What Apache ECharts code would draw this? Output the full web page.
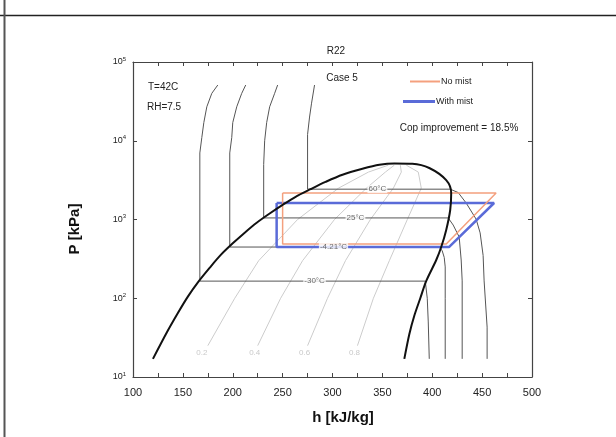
<!DOCTYPE html>
<html>
<head>
<meta charset="utf-8">
<script src="https://cdn.jsdelivr.net/npm/echarts@6/dist/echarts.min.js"></script>
<style>
  html, body { margin: 0; padding: 0; background: #fff; }
  #chart { width: 616px; height: 437px; }
</style>
</head>
<body>
<div id="chart"></div>
<script>
// saturation dome, [h kJ/kg, P kPa]
const dome = [
  [120, 17], [134, 37], [145, 65], [155, 105], [166, 165], [177, 245], [188, 355],
  [200, 498], [212, 681], [224, 910], [237, 1192], [250, 1534], [263, 1943],
  [278, 2427], [293, 3000], [310, 3700], [330, 4400], [347, 4950], [362, 5150],
  [380, 5100], [397, 4510], [414, 3160], [419, 2170], [418, 1320], [414, 736],
  [409, 447], [404, 306], [394, 166], [388, 100], [382, 60], [377, 35], [372, 17]
]

// isotherms
const isoM30 = [[185, 51000], [179, 40000], [174, 27000], [171, 17000], [169, 11000], [167, 7000],
  [167, 165], [393, 165], [395, 100], [396, 50], [397, 17]]
const isoM4 = [[213, 51000], [209, 40000], [204, 27000], [200, 17000], [199, 11000], [197, 7000],
  [197, 447], [407, 447], [410, 400], [412, 330], [413, 250], [413, 100], [413, 17]]
const iso25 = [[245, 51000], [242, 40000], [237, 27000], [234, 17000], [232, 10000], [231, 5000],
  [231, 1047], [416, 1047], [421, 850], [427, 600], [429, 306], [430, 166], [430, 17]]
const iso60 = [[282, 51000], [279, 30000], [277, 20000], [275, 12000], [275, 2427], [418, 2427],
  [426, 2200], [434, 1620], [444, 1010], [448, 676], [451, 350], [452, 166], [455, 43], [455, 17]]
const tempNames = ['60°C', '25°C', '-4.21°C', '-30°C']
const tempAt = [[345, 2427], [323, 1047], [301, 447], [282, 165]]

// quality lines
const q02 = [[175, 25], [202, 100], [226, 300], [265, 1000], [306, 2500], [336, 4000], [356, 4900]]
const q04 = [[225, 25], [248, 100], [270, 300], [302, 1000], [334, 2500], [353, 4000], [362, 4900]]
const q06 = [[275, 25], [295, 100], [313, 300], [338, 1000], [361, 2500], [369, 4000], [368, 4900]]
const q08 = [[325, 25], [341, 100], [357, 300], [375, 1000], [389, 2500], [386, 4000], [374, 4900]]
const qNames = ['0.2', '0.4', '0.6', '0.8']
const qAt = [[169, 20], [222, 20], [272, 20], [322, 20]]

// cycles
const noMist = [[250, 2170], [464, 2170], [414, 489], [250, 489], [250, 2170]]
const withMist = [[244, 1620], [462, 1620], [417, 448], [244, 448], [244, 1620]]

const font = 'Liberation Sans, Arial, sans-serif'
const chart = echarts.init(document.getElementById('chart'))

function line(name, data, color, width, z) {
  return { name, type: 'line', data, symbol: 'none', smooth: false, z,
    lineStyle: { color, width }, itemStyle: { color }, silent: true }
}

const isoSeries = [isoM30, isoM4, iso25, iso60].map(d => line('', d, '#555', 1, 2))
const qSeries = [q02, q04, q06, q08].map(d => line('', d, '#ccc', 1, 1))

const axisCommon = {
  axisLine: { lineStyle: { color: '#444', width: 1.2 } },
  axisTick: { inside: true, length: 4, lineStyle: { color: '#444' } },
  splitLine: { show: false }
}

let option = {
  animation: false,
  textStyle: { fontFamily: font },
  grid: { left: 133, right: 84, top: 62, bottom: 60 },
  legend: [
    { data: ['No mist'], left: 410, top: 77, padding: 0, itemWidth: 30, itemHeight: 2, icon: 'rect',
      textStyle: { fontSize: 9, color: '#222', padding: [0, 0, 0, -4] } },
    { data: ['With mist'], left: 403, top: 97, padding: 0, itemWidth: 32, itemHeight: 3, icon: 'rect',
      textStyle: { fontSize: 9, color: '#222', padding: [0, 0, 0, -4] } }
  ],
  xAxis: [
    Object.assign({ type: 'value', min: 100, max: 500, interval: 50,
      minorTick: { show: true, splitNumber: 2, length: 4, lineStyle: { color: '#444' } },
      axisLabel: { fontSize: 11, color: '#222', margin: 10 } }, axisCommon),
    Object.assign({ type: 'value', position: 'top', min: 100, max: 500, interval: 50,
      minorTick: { show: true, splitNumber: 2, length: 4, lineStyle: { color: '#444' } },
      axisLabel: { show: false } }, axisCommon)
  ],
  yAxis: [
    Object.assign({ type: 'log', logBase: 10, min: 10, max: 100000, splitNumber: 4,
      axisLabel: { margin: 7, color: '#222',
        formatter: v => '{b|10}{s|' + Math.round(Math.log10(v)) + '}',
        rich: { b: { fontSize: 9, color: '#222' }, s: { fontSize: 6, color: '#222', padding: [0, 0, 6, 0] } } } }, axisCommon),
    Object.assign({ type: 'log', logBase: 10, min: 10, max: 100000, splitNumber: 4, position: 'right',
      axisLabel: { show: false } }, axisCommon)
  ],
  series: [
    ...qSeries,
    ...isoSeries,
    line('No mist', noMist, '#f4a07e', 1.5, 4),
    line('With mist', withMist, '#5a6bd8', 2.5, 3),
    Object.assign(line('', dome, '#111', 2, 5), { smooth: 0.3 }),
    { type: 'scatter', symbolSize: 0, z: 6, silent: true,
      data: tempAt.map((p, i) => ({ value: p, name: tempNames[i] })),
      label: { show: true, position: 'inside', formatter: p => p.name, fontSize: 8, color: '#444',
        backgroundColor: '#fff', padding: [0, 1] } },
    { type: 'scatter', symbolSize: 0, z: 6, silent: true,
      data: qAt.map((p, i) => ({ value: p, name: qNames[i] })),
      label: { show: true, position: 'inside', formatter: p => p.name, fontSize: 8, color: '#bbb' } }
  ],
  graphic: [
    { type: 'line', shape: { x1: 0, y1: 15.5, x2: 616, y2: 15.5 }, style: { stroke: '#222', lineWidth: 1.5 } },
    { type: 'line', shape: { x1: 4.5, y1: 0, x2: 4.5, y2: 437 }, style: { stroke: '#555', lineWidth: 2 } },
    { type: 'text', x: 336, y: 51, style: { text: 'R22', fontSize: 10, fill: '#222', align: 'center', verticalAlign: 'middle', fontFamily: font } },
    { type: 'text', x: 342, y: 78, style: { text: 'Case 5', fontSize: 10, fill: '#222', align: 'center', verticalAlign: 'middle', fontFamily: font } },
    { type: 'text', x: 148, y: 87, style: { text: 'T=42C', fontSize: 10, fill: '#222', verticalAlign: 'middle', fontFamily: font } },
    { type: 'text', x: 147, y: 107, style: { text: 'RH=7.5', fontSize: 10, fill: '#222', verticalAlign: 'middle', fontFamily: font } },
    { type: 'text', x: 459, y: 128, style: { text: 'Cop improvement = 18.5%', fontSize: 10, fill: '#222', align: 'center', verticalAlign: 'middle', fontFamily: font } },
    { type: 'text', x: 343, y: 418, style: { text: 'h [kJ/kg]', fontSize: 15, fontWeight: 'bold', fill: '#111', align: 'center', verticalAlign: 'middle', fontFamily: font } },
    { type: 'text', x: 75, y: 229, rotation: Math.PI / 2, style: { text: 'P [kPa]', fontSize: 15, fontWeight: 'bold', fill: '#111', align: 'center', verticalAlign: 'middle', fontFamily: font } }
  ]
}

chart.setOption(option)
</script>
</body>
</html>
